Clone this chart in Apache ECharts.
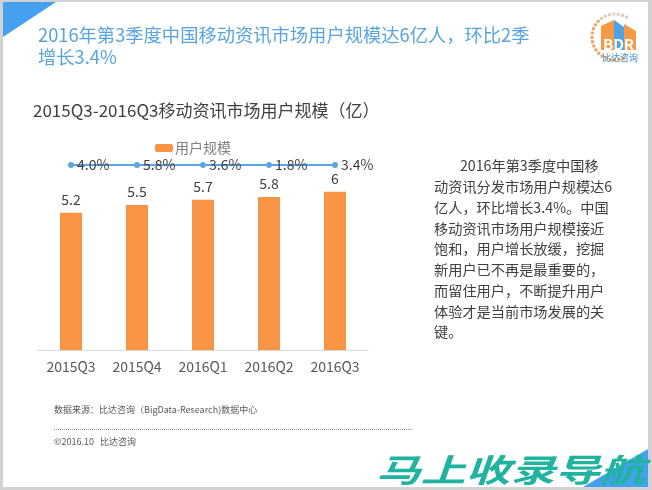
<!DOCTYPE html>
<html>
<head>
<meta charset="utf-8">
<script src="https://cdn.jsdelivr.net/npm/echarts@6/dist/echarts.min.js"></script>
<style>
html,body{margin:0;padding:0;background:#fff;}
#c{width:652px;height:490px;}
</style>
</head>
<body>
<div id="c"></div>
<script>
var categories = ['2015Q3', '2015Q4', '2016Q1', '2016Q2', '2016Q3'];
var userScale = [5.2, 5.5, 5.7, 5.8, 6];
var qoqGrowth = [4.0, 5.8, 3.6, 1.8, 3.4];
var seriesName = '用户规模';
var growthRow = '环比增长';
var titleLines = ['2016年第3季度中国移动资讯市场用户规模达6亿人，环比2季', '增长3.4%'];
var chartTitle = '2015Q3-2016Q3移动资讯市场用户规模（亿）';
var paraLines = ['2016年第3季度中国移', '动资讯分发市场用户规模达6', '亿人，环比增长3.4%。中国', '移动资讯市场用户规模接近', '饱和，用户增长放缓，挖掘', '新用户已不再是最重要的，', '而留住用户，不断提升用户', '体验才是当前市场发展的关', '键。'];
var sourceText = '数据来源：比达咨询（BigData-Research)数据中心';
var copyText = '©2016.10   比达咨询';
var watermark = '马上收录导航';

var FONT = '"Microsoft YaHei","Noto Sans CJK SC","Noto Sans",sans-serif';
var chart = echarts.init(document.getElementById('c'), null, {renderer: 'canvas'});

var graphics = [];
// frame
graphics.push({type: 'rect', shape: {x: 0, y: 0, width: 652, height: 2}, style: {fill: '#d2d2d2'}, silent: true});
graphics.push({type: 'rect', shape: {x: 0, y: 0, width: 3, height: 490}, style: {fill: '#d2d2d2'}, silent: true});
graphics.push({type: 'rect', shape: {x: 648, y: 0, width: 4, height: 490}, style: {fill: '#d2d2d2'}, silent: true});
graphics.push({type: 'rect', shape: {x: 0, y: 487, width: 652, height: 3}, style: {fill: '#d2d2d2'}, silent: true});
// blue corner triangles
graphics.push({type: 'polygon', shape: {points: [[3, 2], [56, 2], [3, 37]]}, style: {fill: '#45a1ef'}, silent: true});
graphics.push({type: 'polygon', shape: {points: [[583, 487], [648, 449], [648, 487]]}, style: {fill: '#45a1ef'}, silent: true});
// title lines
titleLines.forEach(function (t, i) {
  graphics.push({type: 'text', x: 38, y: 35 + i * 22, style: {text: t, fill: '#58a4dc', font: '18.3px ' + FONT, textVerticalAlign: 'middle'}});
});
graphics.push({type: 'text', x: 33, y: 111, style: {text: chartTitle, fill: '#404040', font: '17px ' + FONT, textVerticalAlign: 'middle'}});
// paragraph
paraLines.forEach(function (t, i) {
  graphics.push({type: 'text', x: i === 0 ? 460 : 434, y: 166 + i * 20.75, style: {text: t, fill: '#404040', font: '14.2px ' + FONT, textVerticalAlign: 'middle'}});
});
// footer
graphics.push({type: 'text', x: 54, y: 410, style: {text: sourceText, fill: '#595959', font: '9px ' + FONT, textVerticalAlign: 'middle'}});
graphics.push({type: 'line', shape: {x1: 54, y1: 429.5, x2: 412, y2: 429.5}, style: {stroke: '#8c8c8c', lineWidth: 1, lineDash: [1, 1]}});
graphics.push({type: 'text', x: 54, y: 442, style: {text: copyText, fill: '#595959', font: '9px ' + FONT, textVerticalAlign: 'middle'}});
// watermark
graphics.push({type: 'text', x: 376, y: 470, scaleX: 1.4, z: 20, style: {text: watermark, fill: '#1fb3a0', font: 'italic bold 32px ' + FONT, textVerticalAlign: 'middle'}});
// logo
(function () {
  var cx = 615, cy = 37, r = 23;
  for (var k = 0; k < 22; k++) {
    var a = (-60 - k * 11) * Math.PI / 180;
    var px = cx + r * Math.cos(a), py = cy + r * Math.sin(a);
    var col = k < 7 ? '#d9cfc4' : '#f0a35e';
    graphics.push({type: 'rect', shape: {x: px - 1.5, y: py - 1.5, width: 3, height: 3}, style: {fill: col}, silent: true});
  }
  graphics.push({type: 'polygon', shape: {points: [[601, 26], [614, 20], [614, 50], [601, 50]]}, style: {fill: '#f59a45'}});
  graphics.push({type: 'polygon', shape: {points: [[614, 20], [624, 27], [624, 50], [614, 50]]}, style: {fill: '#4ea3e8'}});
  graphics.push({type: 'polygon', shape: {points: [[624, 24], [636, 31], [636, 50], [624, 50]]}, style: {fill: '#f59a45'}});
  graphics.push({type: 'text', x: 618.5, y: 44, style: {text: 'BDR', fill: '#ffffff', font: 'bold 15px ' + FONT, textAlign: 'center', textVerticalAlign: 'middle'}});
  graphics.push({type: 'text', x: 620, y: 58, style: {text: '比达咨询', fill: '#3f8fd8', font: '9px ' + FONT, textAlign: 'center', textVerticalAlign: 'middle'}});
})();

var option = {
  backgroundColor: '#ffffff',
  animation: false,
  textStyle: {fontFamily: FONT},
  legend: {
    data: [seriesName], left: 150, top: 136, itemWidth: 18, itemHeight: 8, itemGap: 4,
    textStyle: {color: '#7f7f7f', fontSize: 14, fontFamily: FONT, padding: [0, 0, 0, -3]}
  },
  grid: [
    {left: 38, width: 330, top: 139, height: 211},
    {left: 38, width: 330, top: 160, height: 10}
  ],
  xAxis: [
    {type: 'category', data: categories, gridIndex: 0,
     axisLine: {lineStyle: {color: '#d9d9d9'}}, axisTick: {show: false},
     axisLabel: {color: '#595959', fontSize: 14, margin: 10, fontFamily: FONT}},
    {type: 'category', data: categories, gridIndex: 1, show: false}
  ],
  yAxis: [
    {type: 'value', min: 0, max: 8, gridIndex: 0, show: false, splitLine: {show: false}},
    {type: 'category', data: [growthRow], gridIndex: 1, show: false}
  ],
  series: [
    {name: seriesName, type: 'bar', data: userScale, barWidth: 22, xAxisIndex: 0, yAxisIndex: 0,
     itemStyle: {color: '#f99444'},
     label: {show: true, position: 'top', distance: 6, color: '#404040', fontSize: 14, fontFamily: FONT}},
    {name: growthRow, type: 'line', xAxisIndex: 1, yAxisIndex: 1,
     data: qoqGrowth.map(function (g, i) { return {value: [categories[i], growthRow], rate: g}; }),
     symbol: 'circle', symbolSize: 6,
     lineStyle: {color: '#5ba6e0', width: 2}, itemStyle: {color: '#5ba6e0'},
     label: {show: true, position: 'right', distance: 3, color: '#404040', fontSize: 14, fontFamily: FONT,
       formatter: function (p) { return p.data.rate.toFixed(1) + '%'; }}}
  ],
  graphic: graphics
};
chart.setOption(option);
</script>
</body>
</html>
